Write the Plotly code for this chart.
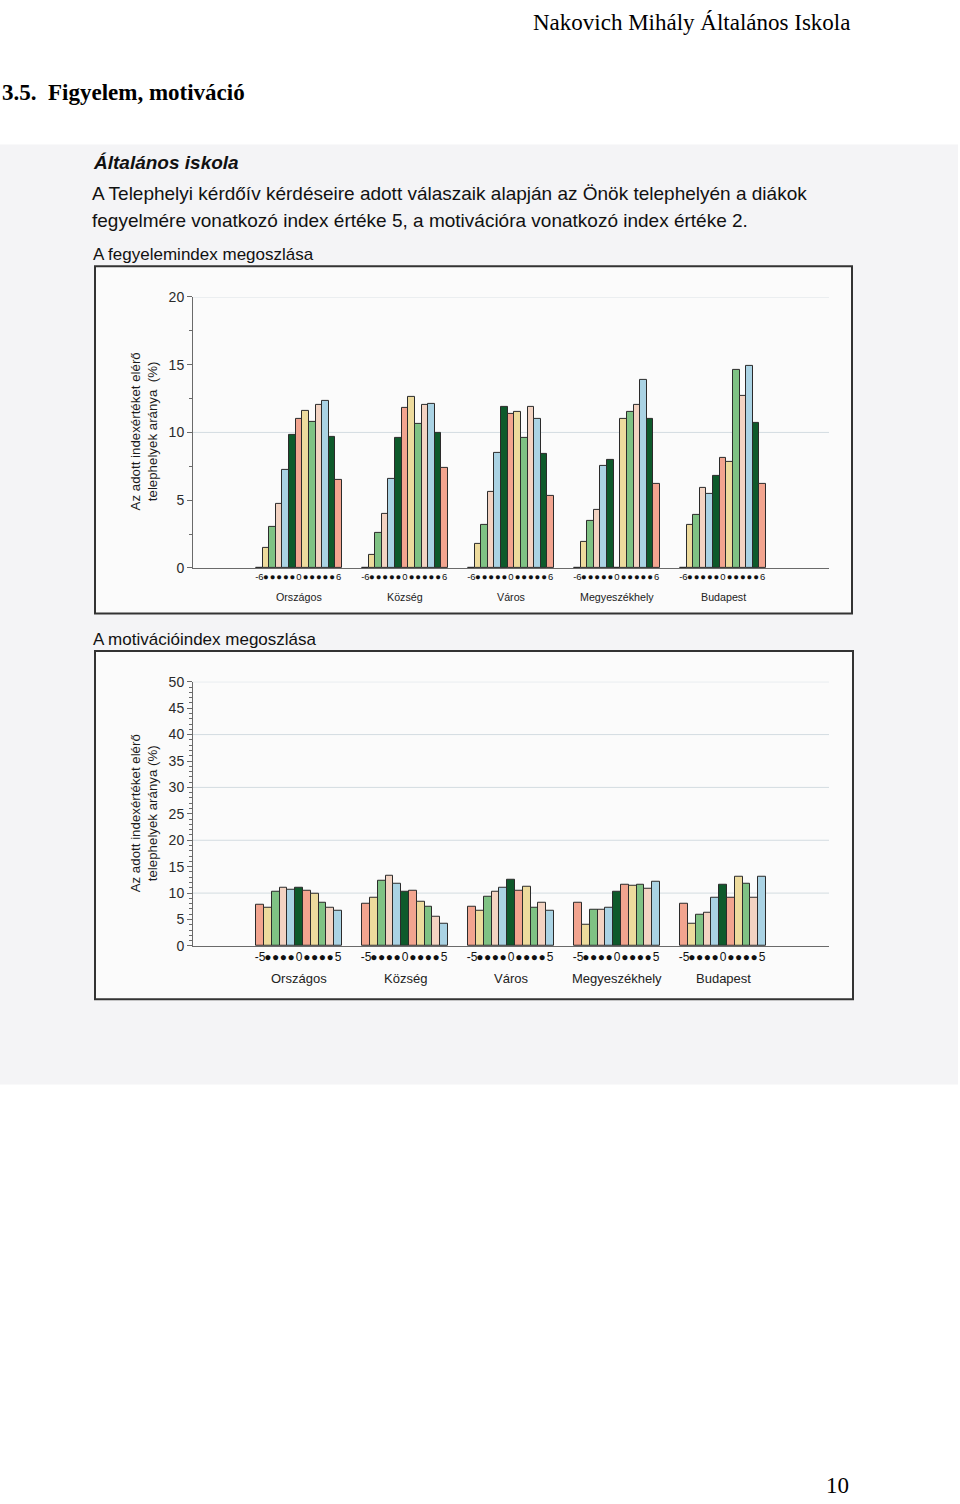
import plotly.graph_objects as go

W, H = 960, 1504


def px(x):
    return x / W


def py(y):
    return 1 - y / H


# ---------------- data ----------------
groups = ["Országos", "Község", "Város", "Megyeszékhely", "Budapest"]

fegyelem_index = list(range(-6, 7))      # -6 .. 6
motivacio_index = list(range(-5, 6))     # -5 .. 5

# A fegyelemindex megoszlása (%), index -6 .. 6
fegy_orszagos = [0, 1.5, 3.0, 4.7, 7.2, 9.8, 11.0, 11.6, 10.8, 12.0, 12.3, 9.7, 6.5]
fegy_kozseg = [0, 1.0, 2.6, 4.0, 6.6, 9.6, 11.8, 12.6, 10.6, 12.0, 12.1, 10.0, 7.4]
fegy_varos = [0, 1.8, 3.2, 5.6, 8.5, 11.9, 11.4, 11.5, 9.6, 11.9, 11.0, 8.4, 5.3]
fegy_megye = [0, 1.9, 3.5, 4.3, 7.5, 8.0, 0, 11.0, 11.5, 12.0, 13.9, 11.0, 6.2]
fegy_budapest = [0, 3.2, 3.9, 5.9, 5.5, 6.8, 8.1, 7.8, 14.6, 12.7, 14.9, 10.7, 6.2]

# A motivációindex megoszlása (%), index -5 .. 5
mot_orszagos = [7.7, 7.3, 10.2, 11.0, 10.6, 11.0, 10.4, 9.9, 8.2, 7.2, 6.7]
mot_kozseg = [8.0, 9.2, 12.3, 13.3, 11.7, 10.2, 10.4, 8.3, 7.4, 5.5, 4.2]
mot_varos = [7.4, 6.7, 9.3, 10.2, 11.0, 12.6, 10.5, 11.2, 7.2, 8.2, 6.7]
mot_megye = [8.1, 4.1, 6.8, 6.8, 7.3, 10.2, 11.6, 11.4, 11.6, 10.9, 12.2]
mot_budapest = [7.9, 4.2, 5.9, 6.3, 9.2, 11.5, 9.2, 13.1, 11.8, 9.2, 13.1]

fegyelem = [fegy_orszagos, fegy_kozseg, fegy_varos, fegy_megye, fegy_budapest]
motivacio = [mot_orszagos, mot_kozseg, mot_varos, mot_megye, mot_budapest]

palette = ["#f2a48f", "#eddb9d", "#7fc284", "#f3d3c2", "#aad3e4", "#0e5a2b"]

FONT = "Liberation Sans, Arial, sans-serif"
SERIF = "Liberation Serif, Times New Roman, serif"


def build(series, index, slot):
    xs, ys, cs, tv, tt = [], [], [], [], []
    for g, vals in enumerate(series):
        for p, (k, v) in enumerate(zip(index, vals)):
            x = (g + 1) + k * slot
            xs.append(x)
            ys.append(v)
            cs.append(palette[p % 6])
            tv.append(x)
            if k == index[0] or k == 0 or k == index[-1]:
                tt.append(str(k))
            else:
                tt.append("●")
    return xs, ys, cs, tv, tt


x1, y1, c1, tv1, tt1 = build(fegyelem, fegyelem_index, 0.0623)
x2, y2, c2, tv2, tt2 = build(motivacio, motivacio_index, 0.0736)

fig = go.Figure()
fig.add_trace(go.Bar(x=x1, y=y1, width=0.0623, marker=dict(color=c1, line=dict(color="#2b2b2b", width=1)),
                     xaxis="x", yaxis="y", showlegend=False, hoverinfo="y"))
fig.add_trace(go.Bar(x=x2, y=y2, width=0.0736, marker=dict(color=c2, line=dict(color="#2b2b2b", width=1)),
                     xaxis="x2", yaxis="y2", showlegend=False, hoverinfo="y"))

axcol = "#6a6a6a"
common_x = dict(range=[0, 6], showgrid=False, zeroline=False, showline=True, linecolor=axcol, linewidth=1,
                tickmode="array", tickangle=0, ticks="", fixedrange=True)
common_y = dict(showgrid=False, zeroline=False, showline=True, linecolor=axcol, linewidth=1,
                ticks="outside", ticklen=5, tickcolor=axcol, tick0=0, dtick=5,
                tickfont=dict(family=FONT, size=14, color="#2a2a2a"))

fig.update_layout(
    width=W, height=H, margin=dict(l=0, r=0, t=0, b=0),
    paper_bgcolor="white", plot_bgcolor="rgba(0,0,0,0)",
    bargap=0,
    xaxis=dict(domain=[px(193), px(829)], anchor="y", tickvals=tv1, ticktext=tt1,
               tickfont=dict(family=FONT, size=9.5, color="#111"), **common_x),
    yaxis=dict(domain=[py(566), py(292)], anchor="x", range=[0, 20],
               minor=dict(dtick=2.5, ticks="outside", ticklen=3, tickcolor=axcol), **common_y),
    xaxis2=dict(domain=[px(193), px(829)], anchor="y2", tickvals=tv2, ticktext=tt2,
                tickfont=dict(family=FONT, size=12, color="#111"), **common_x),
    yaxis2=dict(domain=[py(948), py(681)], anchor="x2", range=[0, 50],
                minor=dict(dtick=1, ticks="outside", ticklen=3, tickcolor=axcol), **common_y),
)

shapes = [
    dict(type="rect", xref="paper", yref="paper", x0=px(0), x1=px(958), y0=py(1088), y1=py(138),
         fillcolor="#f4f4f6", line=dict(width=0), layer="below"),
    dict(type="rect", xref="paper", yref="paper", x0=px(95), x1=px(852), y0=py(612), y1=py(261),
         fillcolor="#fbfbfb", line=dict(color="#333", width=2), layer="below"),
    dict(type="rect", xref="paper", yref="paper", x0=px(95), x1=px(853), y0=py(1002), y1=py(650),
         fillcolor="#fbfbfb", line=dict(color="#333", width=2), layer="below"),
]
for gv in [10, 20]:
    shapes.append(dict(type="line", xref="x domain", yref="y", x0=0, x1=1, y0=gv, y1=gv,
                       line=dict(color="#d3dce1", width=1), layer="below"))
for gv in [10, 20, 30, 40, 50]:
    shapes.append(dict(type="line", xref="x2 domain", yref="y2", x0=0, x1=1, y0=gv, y1=gv,
                       line=dict(color="#d3dce1", width=1), layer="below"))
fig.update_layout(shapes=shapes)

ann = []


def txt(text, x, y, size, family=FONT, xanchor="left", color="#111", **kw):
    ann.append(dict(text=text, x=x, y=y, xref="paper", yref="paper", showarrow=False,
                    xanchor=xanchor, yanchor="middle", font=dict(family=family, size=size, color=color), **kw))


# page header / footer
txt("Nakovich Mihály Általános Iskola", px(852), py(15), 23, family=SERIF, xanchor="right", color="#000")
txt("<b>3.5.\u00a0 Figyelem, motiváció</b>", px(0), py(85), 23, family=SERIF, color="#000")
txt("10", px(851), py(1493), 23, family=SERIF, xanchor="right", color="#000")

# scanned text
txt("<b><i>Általános iskola</i></b>", px(91), py(156), 19)
txt("A Telephelyi kérdőív kérdéseire adott válaszaik alapján az Önök telephelyén a diákok", px(90), py(187), 19)
txt("fegyelmére vonatkozó index értéke 5, a motivációra vonatkozó index értéke 2.", px(90), py(215), 19)
txt("A fegyelemindex megoszlása", px(91), py(249), 17)
txt("A motivációindex megoszlása", px(91), py(638), 17)

# y-axis titles
txt("Az adott indexértéket elérő<br>telephelyek aránya\u00a0 (%)", px(144), py(428), 13.3,
    xanchor="center", color="#1a1a1a", textangle=-90)
txt("Az adott indexértéket elérő<br>telephelyek aránya (%)", px(144), py(814), 13.3,
    xanchor="center", color="#1a1a1a", textangle=-90)

# group names
for g, name in enumerate(groups):
    ann.append(dict(text=name, x=g + 1, y=py(595), xref="x", yref="paper", showarrow=False,
                    xanchor="center", yanchor="middle", font=dict(family=FONT, size=10.7, color="#222")))
    ann.append(dict(text=name, x=g + 1, y=py(981), xref="x2", yref="paper", showarrow=False,
                    xanchor="center", yanchor="middle", font=dict(family=FONT, size=13, color="#222")))

fig.update_layout(annotations=ann)

fig.write_html("out.html")
